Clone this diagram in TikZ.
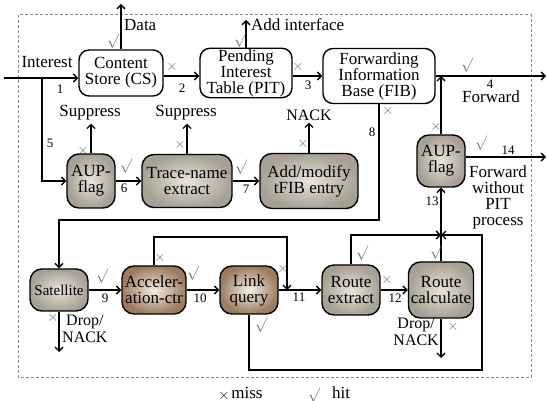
\documentclass[tikz,border=0pt]{standalone}
\usepackage{fontspec}
\setmainfont{Liberation Serif}
\usetikzlibrary{arrows.meta}
\definecolor{gin}{HTML}{E8E5DE}
\definecolor{gout}{HTML}{A6A194}
\definecolor{bin}{HTML}{F4EEE6}
\definecolor{bout}{HTML}{9C7C5F}
\definecolor{markgray}{HTML}{6A6A6A}
\definecolor{framegray}{HTML}{8A8A8A}
\newcommand\missmark{$\times$}
\newcommand\hitmark{$\surd$}
\begin{document}
\begin{tikzpicture}[x=1pt,y=-1pt,
  every node/.style={font=\fontsize{17}{16}\selectfont, inner sep=0pt},
  wbox/.style={draw, line width=1.4pt, rounded corners=10pt, fill=white, align=center, inner sep=1pt},
  gbox/.style={draw, line width=1.4pt, rounded corners=12pt, inner color=gin, outer color=gout, align=center},
  bbox/.style={draw, line width=1.4pt, rounded corners=12pt, inner color=bin, outer color=bout, align=center},
  conn/.style={line width=1.3pt, -{Straight Barb[length=4pt,width=8pt,line width=1.3pt]}},
  plain/.style={line width=1.3pt},
  mk/.style={font=\fontsize{14}{14}\selectfont, text=markgray},
  num/.style={font=\fontsize{13}{13}\selectfont},
  small/.style={font=\fontsize{16}{17}\selectfont, align=center},
]
\useasboundingbox (0,0) rectangle (547,401);

% outer dashed frame
\draw[framegray, line width=1pt, dash pattern=on 3pt off 2pt] (18,15) rectangle (531,377);

% helper coordinates
\coordinate (row) at (0,76);
\coordinate (inL) at (4,78);
\coordinate (br5) at (42,78);
\coordinate (dataTip) at (121,4);
\coordinate (addTip) at (247,20);
\coordinate (fwdTip) at (546,76);
\coordinate (fwd2Tip) at (546,157);
\coordinate (c8) at (0,220);
\coordinate (j11) at (287,237);
\coordinate (lpB) at (482,370);
\coordinate (jn) at (441,235);
\coordinate (satDrop) at (59,352);
\coordinate (rcDrop) at (441,358);

% top row
\node[wbox, minimum width=84pt, minimum height=46pt] (cs) at (121,73) {Content\\Store (CS)};
\node[wbox, minimum width=92pt, minimum height=48pt] (pit) at (246,73) {Pending\\Interest\\Table (PIT)};
\node[wbox, minimum width=112pt, minimum height=55pt] (fib) at (379,76) {Forwarding\\Information\\Base (FIB)};

% middle row
\node[gbox, minimum width=48pt, minimum height=54pt] (aup1) at (91,181) {AUP-\\flag};
\node[gbox, minimum width=90pt, minimum height=53pt] (trace) at (187,181) {Trace-name\\extract};
\node[gbox, minimum width=98pt, minimum height=55pt] (addm) at (309,181) {Add/modify\\tFIB entry};
\node[gbox, minimum width=48pt, minimum height=52pt] (aup2) at (441,161) {AUP-\\flag};

% bottom row
\node[gbox, minimum width=58pt, minimum height=42pt, font=\fontsize{15}{15}\selectfont] (sat) at (59,290) {Satellite};
\node[bbox, minimum width=64pt, minimum height=48pt] (acc) at (154,290) {Acceler-\\ation-ctr};
\node[bbox, minimum width=58pt, minimum height=48pt] (link) at (249,290) {Link\\query};
\node[gbox, minimum width=58pt, minimum height=50pt] (rext) at (351,290) {Route\\extract};
\node[gbox, minimum width=65pt, minimum height=56pt] (rcalc) at (441,290) {Route\\calculate};

% text labels
\node (lint) at (47,62) {Interest};
\node[anchor=west] (ldata) at (124,25) {Data};
\node[anchor=west] (ladd) at (251,25) {Add interface};
\node (lfwd) at (491,97) {Forward};
\node (lsup1) at (90,113) {Suppress};
\node (lsup2) at (186,113) {Suppress};
\node[small] (lnack) at (309,115) {NACK};
\node[align=center] (lfwd2) at (498,197) {Forward\\without\\PIT\\process};
\node[small, anchor=north west] (ldrop1) at (62,315) {Drop/\\NACK};
\node[small, anchor=north east] (ldrop2) at (439,318) {Drop/\\NACK};

% connectors
\draw[conn] (inL) -- (inL -| cs.west);
\draw[conn] (br5) |- (aup1.west);
\draw[conn] (cs.north) -- (dataTip);
\draw[conn] (cs.east |- row) -- (pit.west |- row);
\draw[conn] (pit.north) -- (pit.north |- addTip);
\draw[conn] (pit.east |- row) -- (fib.west |- row);
\draw[conn] (fib.east |- row) -- (fwdTip);
\draw[conn, shorten >=3pt] (aup1.north) -- (aup1.north |- lsup1.south);
\draw[conn, shorten >=3pt] (trace.north) -- (trace.north |- lsup2.south);
\draw[conn, shorten >=2pt] (addm.north) -- (addm.north |- lnack.south);
\draw[conn] (aup1.east) -- (trace.west);
\draw[conn] (trace.east) -- (addm.west);
\draw[conn] (aup2.north) -- (aup2.north |- row);
\draw[conn] (aup2.east |- fwd2Tip) -- (fwd2Tip);
\draw[conn] (fib.south) |- (sat.north |- c8) -- (sat.north);
\draw[conn] (sat.east) -- (acc.west);
\draw[conn] (acc.east) -- (link.west);
\draw[conn] (link.east) -- (rext.west);
\draw[conn] (rext.east) -- (rcalc.west);
\draw[conn] (acc.north) |- (j11) -- (j11 |- rext.west);
\draw[conn] (link.south) |- (lpB) |- (jn);
\draw[conn] (rext.north) |- (jn);
\draw[plain] (rcalc.north) -- (jn);
\draw[conn] (jn) -- (aup2.south);
\draw[conn] (sat.south) -- (satDrop);
\draw[conn] (rcalc.south) -- (rcDrop);

% step numbers
\node[num] at (60,89) {1};
\node[num] at (182,88) {2};
\node[num] at (308,85) {3};
\node[num] at (490,84) {4};
\node[num] at (50,143) {5};
\node[num] at (124,188) {6};
\node[num] at (246,189) {7};
\node[num] at (372,132) {8};
\node[num] at (105,298) {9};
\node[num] at (200,298) {10};
\node[num] at (299,297) {11};
\node[num] at (395,298) {12};
\node[num] at (432,201) {13};
\node[num] at (508,150) {14};

% hit / miss marks
\node[mk] at (113,41) {\hitmark};
\node[mk] at (240,40) {\hitmark};
\node[mk] at (172,67) {\missmark};
\node[mk] at (298,67) {\missmark};
\node[mk] at (467,65) {\hitmark};
\node[mk] at (388,111) {\missmark};
\node[mk] at (436,127) {\missmark};
\node[mk] at (83,151) {\missmark};
\node[mk] at (126,166) {\hitmark};
\node[mk] at (180,145) {\missmark};
\node[mk] at (241,167) {\hitmark};
\node[mk] at (303,144) {\missmark};
\node[mk] at (481,143) {\hitmark};
\node[mk] at (53,318) {\missmark};
\node[mk] at (102,276) {\hitmark};
\node[mk] at (160,258) {\missmark};
\node[mk] at (193,273) {\hitmark};
\node[mk] at (261,325) {\hitmark};
\node[mk] at (283,269) {\missmark};
\node[mk] at (362,253) {\hitmark};
\node[mk] at (387,280) {\missmark};
\node[mk] at (436,252) {\hitmark};
\node[mk] at (453,327) {\missmark};

% legend
\node[font=\fontsize{14}{14}\selectfont] at (224,396) {\missmark};
\node at (247,393) {miss};
\node[font=\fontsize{14}{14}\selectfont, text=markgray] at (314,395) {\hitmark};
\node at (341,393) {hit};
\end{tikzpicture}
\end{document}
